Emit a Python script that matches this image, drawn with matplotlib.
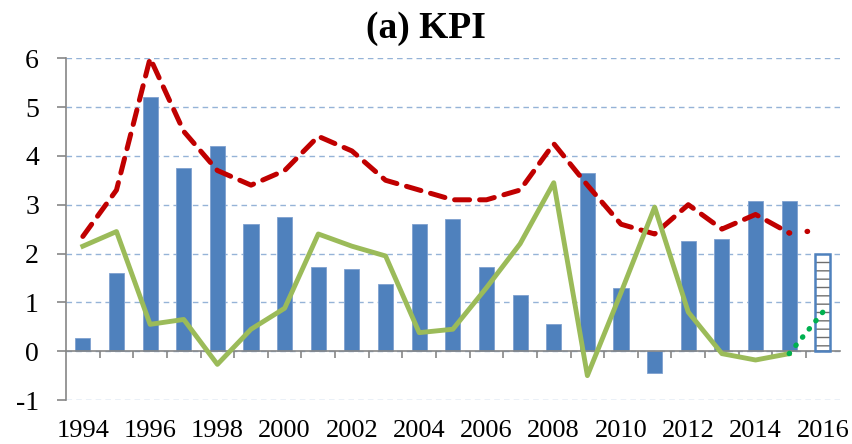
import numpy as np
from matplotlib import pyplot as plt
from matplotlib import transforms

# anni e valori
anni = list(range(1994, 2017))
barre = [0.27, 1.6, 5.2, 3.75, 4.2, 2.6, 2.75, 1.73, 1.68, 1.37, 2.6, 2.7,
         1.72, 1.15, 0.55, 3.65, 1.3, -0.45, 2.25, 2.3, 3.07, 3.07]
barra_prev = 2.0  # 2016, previsione
rossa = [2.35, 3.3, 6.0, 4.5, 3.7, 3.4, 3.7, 4.4, 4.1, 3.5, 3.3, 3.1,
         3.1, 3.3, 4.25, 3.4, 2.6, 2.4, 3.0, 2.5, 2.8, 2.42]
rossa_prev = 2.48
verde = [2.15, 2.45, 0.55, 0.65, -0.27, 0.45, 0.88, 2.4, 2.15, 1.95, 0.38, 0.45,
         1.3, 2.2, 3.45, -0.5, 1.2, 2.95, 0.8, -0.05, -0.18, -0.05]
verde_prev = 0.8
etichette = [str(a) for a in anni if a % 2 == 0]

plt.rcParams['font.family'] = ['Liberation Serif', 'DejaVu Serif']

blu = '#4F81BD'
grigio = '#868686'

fig = plt.figure(figsize=(8.52, 4.44), dpi=100)
ax = fig.add_axes([0.0775, 0.099, 0.908, 0.770])

x = np.arange(len(anni))
n = len(barre)

# griglia
for v in range(-1, 7):
    ax.axhline(v, color='#95B3D7', lw=1, ls=(0, (4, 3)), zorder=0)

ax.bar(x[:n], barre, width=0.45, color=blu, edgecolor='#7FA1CF', lw=0.6, zorder=2)
# barra tratteggiata 2016
ax.bar(x[n], barra_prev, width=0.45, color='white', edgecolor='#6E6E6E',
       hatch='--', lw=0, zorder=2)
ax.bar(x[n], barra_prev, width=0.45, fill=False, edgecolor=blu, lw=1.8, zorder=3)

ax.plot(x[:n], rossa, color='#C00000', lw=3.6, ls=(0, (3.0, 2.0)),
        dash_capstyle='round', solid_joinstyle='round', zorder=4)
ax.plot([x[n - 1], x[n]], [rossa[-1], rossa_prev], color='#C00000', lw=3.8,
        ls=(0, (0.1, 3.3)), dash_capstyle='round', zorder=4)
ax.plot(x[:n], verde, color='#9BBB59', lw=3.5, solid_joinstyle='round', zorder=5)
ax.plot([x[n - 1], x[n]], [verde[-1], verde_prev], color='#00B050', lw=3.8,
        ls=(0, (0.1, 1.9)), dash_capstyle='round', zorder=5)

ax.set_xlim(-0.5, len(anni) - 0.5)
ax.set_ylim(-1, 6)

# assi
for s in ['top', 'right']:
    ax.spines[s].set_visible(False)
ax.spines['bottom'].set_position(('data', 0))
ax.spines['bottom'].set_color(grigio)
ax.spines['bottom'].set_linewidth(1.2)
ax.spines['left'].set_color(grigio)
ax.spines['left'].set_linewidth(1.2)
ax.spines['left'].set_zorder(6)

ax.set_xticks(np.arange(0.5, len(anni) - 0.5, 1))
ax.set_xticklabels([])
ax.tick_params(axis='x', length=5, width=1.2, color=grigio, direction='out')

ax.set_yticks(range(-1, 7))
ax.set_yticklabels([str(v) for v in range(-1, 7)], fontsize=20)
ax.tick_params(axis='y', length=6.5, width=1.2, color=grigio, pad=13)

# etichette anni in basso
trans = transforms.blended_transform_factory(ax.transData, ax.transAxes)
for a, lab in zip([a for a in anni if a % 2 == 0], etichette):
    ax.text(anni.index(a), -0.058, lab, transform=trans, ha='center', va='top',
            fontsize=19)

fig.text(0.5, 0.975, '(a) KPI', ha='center', va='top', fontsize=27,
         fontweight='bold')

plt.savefig('out.png', dpi=100)
